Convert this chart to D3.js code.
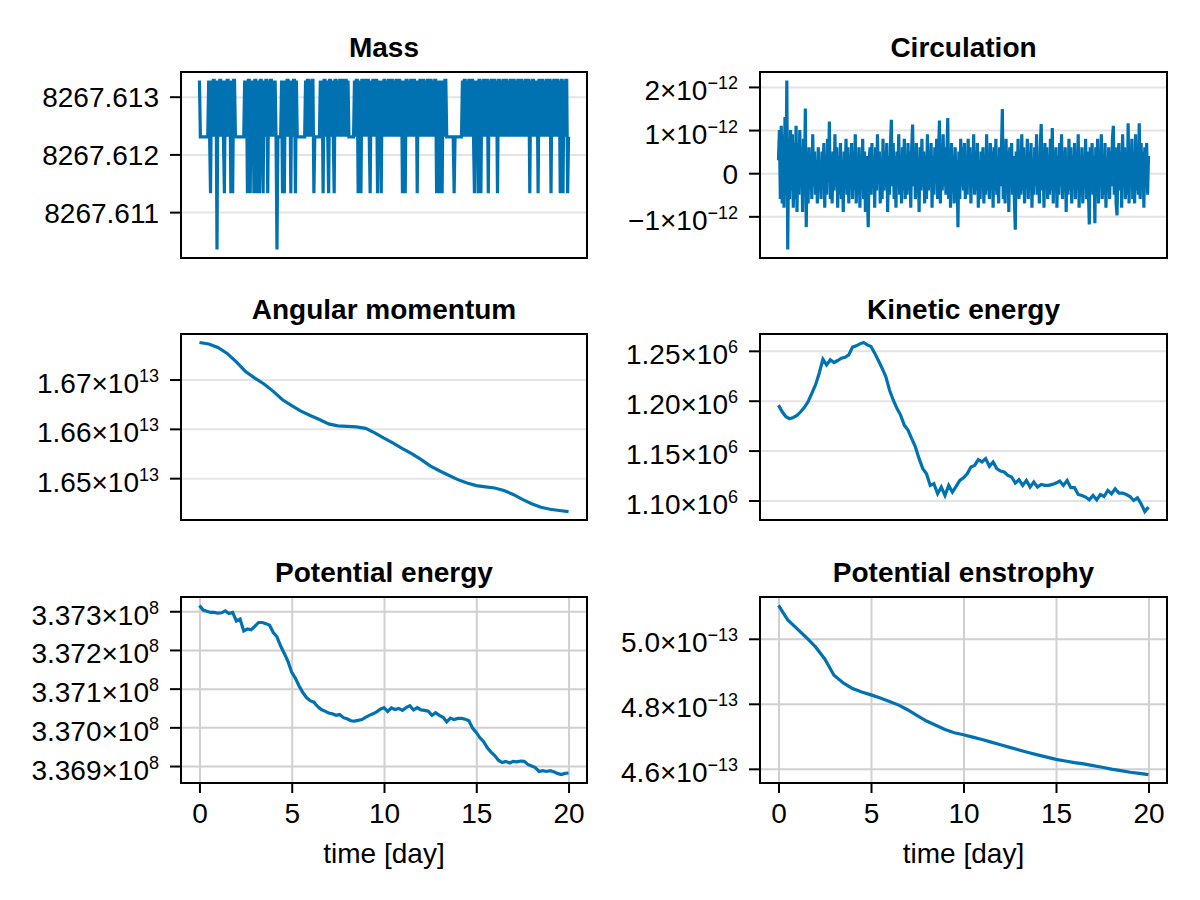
<!DOCTYPE html>
<html>
<head>
<meta charset="utf-8">
<script src="https://cdn.jsdelivr.net/npm/d3@7"></script>
<style>
body { margin: 0; background: #fff; }
svg text { font-family: "Liberation Sans", Arial, sans-serif; fill: #000; }
</style>
</head>
<body>
<svg id="chart" width="1200" height="900"></svg>
<script>
//Sampling steps in days for the different series
var dtFine = 0.05, dtMid = 0.2, dtCoarse = 0.5;

//Mass sits on float32 levels, stored as steps above the lowest level
//(one row per day, every 0.05 day)
var massBase = 8267.6103515625, massStep = 0.0009765625;
var massSteps = [
    3,2,2,2,2,2,2,2,2,2, 3,2,1,3,2,3,3,2,3,0,
    3,2,3,3,2,3,2,1,3,2, 3,3,2,3,1,3,1,3,3,2,
    2,2,2,2,2,2,2,2,2,3, 2,3,1,3,3,1,3,2,3,1,
    3,3,1,3,2,1,3,3,2,1, 3,2,3,3,1,3,2,3,3,2,
    3,2,3,2,0,2,2,2,2,3, 1,3,1,3,2,3,3,2,3,1,
    3,2,3,3,1,3,2,2,2,2, 2,2,2,2,2,3,2,3,3,2,
    3,2,3,3,1,2,2,2,2,2, 2,3,2,3,1,3,3,2,3,2,
    1,3,3,2,3,2,1,3,3,2, 3,2,3,3,2,3,3,2,3,3,
    2,3,2,2,2,2,2,2,3,2, 3,3,1,3,2,1,3,3,2,3,
    3,2,3,3,2,1,3,2,3,3, 2,3,3,1,3,2,3,1,3,2,
    3,3,2,3,2,3,3,2,3,3, 2,3,2,3,3,2,3,3,2,3,
    1,3,2,1,3,3,2,3,2,3, 3,2,3,3,2,3,1,3,2,3,
    3,2,3,3,2,3,2,3,3,2, 3,3,2,3,2,3,3,1,3,2,
    1,3,2,1,3,2,3,3,2,2, 2,2,2,2,2,2,1,2,2,2,
    2,2,2,2,2,3,2,3,3,2, 3,2,3,3,2,3,3,2,1,3,
    2,3,1,3,3,1,3,2,3,3, 2,3,3,1,3,2,3,3,2,3,
    3,2,3,1,3,3,2,3,2,3, 3,2,3,3,2,3,2,3,3,2,
    3,3,2,3,2,3,3,2,3,3, 2,3,2,3,3,2,3,3,1,3,
    2,3,3,2,3,2,3,1,3,3, 2,3,3,2,3,2,3,3,2,3,
    3,1,3,2,3,3,2,3,3,2, 3,1,3,3,1,3,2,3,3,1,
    2];

//Circulation in units of 1e-13, every 0.05 day (one row per day)
var circulation = [
    3,10,-6,11,-7,9,-8,13,-5,21.5, -17.7,8,-6,10,-4,9,-8,7,-6,11,
    -9,7,-5,10,-3,6,-9,8,-4,15, -12.5,5,-7,6,-2,4,-6,9,-3,5,
    -5,3,-7,6,-4,2,-6,5,-3,7, -8,4,-5,8,-2,12,-6,3,-7,5,
    -4,9,-3,6,-8,4,-5,7,-6,3, -9,5,-2,8,-5,6,-7,4,-3,7,
    -6,5,-4,9,-7,3,-5,6,-8,4, -3,8,-6,5,-9,4,-4,-12.5,3,6,
    -5,7,-3,4,-8,6,-4,9,-2,5, -7,3,-6,8,-4,5,-3,7,-9,4,
    -5,6,12.4,-3,7,-6,4,-8,5,-2, 9,-5,3,-7,6,-4,8,-6,3,-5,
    7,-4,5,-8,6,11.3,-3,4,-6,7, -5,3,-9,6,-4,8,-3,5,-7,4,
    -6,9,-4,5,-3,7,-8,4,-5,6, -2,8,-6,4,12.2,-7,5,-4,9,-3,
    6,-5,4,12.8,-6,5,-8,7,-3,4, -7,6,-4,3,-12.5,5,-6,8,-3,6,
    -4,7,-6,3,-5,8,-2,6,-7,4, -3,9,-5,5,-4,7,-8,3,-6,5,
    -3,6,-7,4,-5,9,-4,3,-6,7, -2,5,-8,6,-4,8,-5,3,-7,6,
    -3,5,14.9,-6,4,-7,8,-4,5,-9, 6,-3,7,-5,4,-6,-13.1,5,-4,8,
    -6,3,-5,9,-4,6,-7,4,-3,8, -6,5,-4,7,-8,3,-5,6,-3,9,
    -5,4,-7,6,11.4,-4,5,-8,7,-3, 6,-6,4,-5,8,-4,10.5,-7,5,-3,
    6,-8,4,-5,7,-3,9,-6,5,-4, 6,-9,3,-5,8,-4,6,-7,4,-3,
    7,-6,5,-4,9,-8,3,-5,6,-7, 4,-3,8,-6,5,-4,-11.9,6,-3,7,
    -5,4,-11.6,6,-4,8,-7,5,-3,9, -6,4,-5,7,-8,3,-4,6,-6,5,
    -3,8,11,-5,6,-7,-9.8,4,7,-4, 5,-8,9,-3,6,-6,4,-5,11.6,-7,
    5,-3,8,-6,4,-7,9,-4,6,-5, 11.6,-6,7,-4,5,-8,6,-3,7,-5,
    4];

//Angular momentum in units of 1e13, every 0.5 day
var angularMomentum = [
    1.67752, 1.67720, 1.67650, 1.67530, 1.67360, 1.67160, 1.67030, 1.66910,
    1.66760, 1.66590, 1.66470, 1.66360, 1.66270, 1.66190, 1.66100, 1.66060,
    1.66050, 1.66040, 1.66010, 1.65920, 1.65810, 1.65710, 1.65600, 1.65496,
    1.65380, 1.65250, 1.65150, 1.65060, 1.64970, 1.64900, 1.64850, 1.64825,
    1.64800, 1.64750, 1.64670, 1.64570, 1.64480, 1.64410, 1.64370, 1.64345,
    1.64323];

//Kinetic energy in units of 1e3, every 0.2 day
var kineticEnergy = [
    1195.6, 1188.9, 1183.9, 1181.9, 1183.2, 1185.2, 1188.9, 1193.3, 1199.0, 1207.4,
    1215.8, 1227.5, 1241.6, 1235.9, 1241.0, 1238.3, 1240.3, 1242.6, 1243.6, 1246.0,
    1253.7, 1255.0, 1257.0, 1258.4, 1256.0, 1254.4, 1247.7, 1240.3, 1232.6, 1224.2,
    1210.7, 1200.7, 1192.3, 1185.6, 1175.5, 1170.5, 1162.1, 1153.7, 1141.9, 1131.9,
    1126.8, 1115.1, 1116.8, 1106.7, 1113.4, 1105.0, 1115.1, 1108.4, 1114.1, 1120.1,
    1122.8, 1126.8, 1133.6, 1135.2, 1140.9, 1138.6, 1141.9, 1134.2, 1138.6, 1131.9,
    1129.5, 1128.5, 1125.2, 1123.5, 1117.4, 1120.8, 1115.1, 1120.1, 1113.4, 1118.5,
    1113.4, 1116.1, 1115.1, 1115.1, 1116.1, 1117.4, 1119.5, 1115.1, 1120.1, 1112.8,
    1112.8, 1106.0, 1105.0, 1103.4, 1100.7, 1105.0, 1100.7, 1106.0, 1104.0, 1110.1,
    1106.7, 1111.7, 1107.4, 1107.4, 1106.0, 1104.0, 1100.0, 1102.7, 1096.6, 1088.9,
    1093.3];

//Potential energy in units of 1e4, every 0.2 day
var potentialEnergy = [
    33731.5, 33730.3, 33730.0, 33729.7, 33729.7, 33729.5, 33729.6, 33730.1, 33729.4, 33729.7,
    33727.5, 33728.0, 33724.9, 33725.4, 33725.2, 33726.1, 33727.1, 33727.1, 33726.8, 33726.4,
    33724.5, 33723.4, 33721.0, 33719.1, 33717.0, 33714.2, 33712.7, 33710.7, 33709.0, 33707.7,
    33706.9, 33706.5, 33705.4, 33704.6, 33704.2, 33703.7, 33703.5, 33703.1, 33703.3, 33702.5,
    33702.2, 33701.7, 33701.6, 33701.8, 33702.0, 33702.6, 33703.1, 33703.5, 33704.0, 33704.7,
    33705.1, 33704.1, 33705.0, 33704.6, 33704.9, 33704.4, 33705.1, 33705.6, 33704.5, 33705.1,
    33704.5, 33704.4, 33704.2, 33703.1, 33703.8, 33703.1, 33702.6, 33701.4, 33702.4, 33702.0,
    33702.3, 33702.3, 33702.1, 33701.7, 33699.8, 33698.7, 33697.3, 33696.3, 33694.7, 33693.6,
    33692.7, 33691.5, 33690.9, 33691.2, 33690.8, 33691.2, 33691.1, 33691.3, 33691.2, 33690.4,
    33690.0, 33689.6, 33688.6, 33688.8, 33688.6, 33688.8, 33688.5, 33688.1, 33687.8, 33688.1,
    33688.2];

//Potential enstrophy in units of 1e-13, every 0.5 day
var potentialEnstrophy = [
    5.1025, 5.0580, 5.0310, 5.0040, 4.9750, 4.9380, 4.8880, 4.8640,
    4.8470, 4.8360, 4.8275, 4.8180, 4.8070, 4.7960, 4.7810, 4.7640,
    4.7470, 4.7340, 4.7210, 4.7110, 4.7050, 4.6975, 4.6900, 4.6820,
    4.6740, 4.6660, 4.6580, 4.6502, 4.6430, 4.6360, 4.6290, 4.6240,
    4.6190, 4.6150, 4.6100, 4.6050, 4.5990, 4.5945, 4.5895, 4.5860,
    4.5824];

//Tick values
var timeTicks = [0, 5, 10, 15, 20];
var massTicks = [8267.611, 8267.612, 8267.613];
var circulationTicks = [-1e-12, 0, 1e-12, 2e-12];
var angularTicks = [1.65e13, 1.66e13, 1.67e13];
var kineticTicks = [1.10e6, 1.15e6, 1.20e6, 1.25e6];
var potentialTicks = [3.369e8, 3.370e8, 3.371e8, 3.372e8, 3.373e8];
var enstrophyTicks = [4.6e-13, 4.8e-13, 5.0e-13];

//Panel layout
var colX = [[181, 587], [760, 1167]];
var rowY = [72, 334, 597];
var rowH = 186;
var lineColor = "#0072b2";
var fontSize = 28;
var supSize = 18;

var panels = [
    {title: "Mass", row: 0, col: 0, dt: dtFine,
     values: massSteps.map(function(k) { return massBase + k * massStep; }),
     ticks: massTicks, exp: null, digits: 3},
    {title: "Circulation", row: 0, col: 1, dt: dtFine,
     values: circulation.map(function(v) { return v * 1e-13; }),
     ticks: circulationTicks, exp: -12, digits: 0},
    {title: "Angular momentum", row: 1, col: 0, dt: dtCoarse,
     values: angularMomentum.map(function(v) { return v * 1e13; }),
     ticks: angularTicks, exp: 13, digits: 2},
    {title: "Kinetic energy", row: 1, col: 1, dt: dtMid,
     values: kineticEnergy.map(function(v) { return v * 1e3; }),
     ticks: kineticTicks, exp: 6, digits: 2},
    {title: "Potential energy", row: 2, col: 0, dt: dtMid,
     values: potentialEnergy.map(function(v) { return v * 1e4; }),
     ticks: potentialTicks, exp: 8, digits: 3},
    {title: "Potential enstrophy", row: 2, col: 1, dt: dtCoarse,
     values: potentialEnstrophy.map(function(v) { return v * 1e-13; }),
     ticks: enstrophyTicks, exp: -13, digits: 1}
];

//Split a tick value into mantissa and exponent text
function tickParts(v, exp, digits) {
    if (exp === null) return {mant: v.toFixed(digits), exp: null};
    if (v === 0) return {mant: "0", exp: null};
    var m = (v / Math.pow(10, exp)).toFixed(digits);
    return {mant: m.replace("-", "\u2212") + "\u00d710",
            exp: String(exp).replace("-", "\u2212")};
}

var svg = d3.select("#chart");

panels.forEach(function(p) {
    var x0 = colX[p.col][0], x1 = colX[p.col][1];
    var y0 = rowY[p.row], y1 = y0 + rowH;
    var bottomRow = p.row === 2;
    var gridColor = bottomRow ? "#d0d0d0" : "#e4e4e4";

    //Makie style limits: data extent plus 5% on each side
    var tMax = (p.values.length - 1) * p.dt;
    var x = d3.scaleLinear()
        .domain([-0.05 * tMax, 1.05 * tMax])
        .range([x0, x1]);
    var ext = d3.extent(p.values);
    var pad = 0.05 * (ext[1] - ext[0]);
    var y = d3.scaleLinear()
        .domain([ext[0] - pad, ext[1] + pad])
        .range([y1, y0]);

    var g = svg.append("g");

    //Horizontal grid
    g.append("g")
        .attr("transform", "translate(" + x0 + ",0)")
        .call(d3.axisLeft(y).tickValues(p.ticks)
            .tickSize(-(x1 - x0)).tickFormat(""))
        .call(function(s) {
            s.select(".domain").remove();
            s.selectAll("line")
                .attr("stroke", gridColor)
                .attr("stroke-width", 2);
        });

    //Vertical grid only on the bottom row
    if (bottomRow) {
        g.append("g")
            .attr("transform", "translate(0," + y1 + ")")
            .call(d3.axisBottom(x).tickValues(timeTicks)
                .tickSize(-(y1 - y0)).tickFormat(""))
            .call(function(s) {
                s.select(".domain").remove();
                s.selectAll("line")
                    .attr("stroke", gridColor)
                    .attr("stroke-width", 2);
            });
    }

    //Series line
    g.append("path")
        .datum(p.values)
        .attr("fill", "none")
        .attr("stroke", lineColor)
        .attr("stroke-width", 3.2)
        .attr("d", d3.line()
            .x(function(d, i) { return x(i * p.dt); })
            .y(function(d) { return y(d); }));

    //Frame
    g.append("rect")
        .attr("x", x0)
        .attr("y", y0)
        .attr("width", x1 - x0)
        .attr("height", y1 - y0)
        .attr("fill", "none")
        .attr("stroke", "#000")
        .attr("stroke-width", 2);

    //Y axis ticks and labels
    var ya = g.append("g")
        .attr("transform", "translate(" + x0 + ",0)")
        .call(d3.axisLeft(y).tickValues(p.ticks).tickSize(11).tickFormat(""));
    ya.select(".domain").remove();
    ya.selectAll(".tick line").attr("stroke", "#000").attr("stroke-width", 2);
    ya.selectAll(".tick text").remove();
    ya.selectAll(".tick").each(function(d) {
        var parts = tickParts(d, p.exp, p.digits);
        var t = d3.select(this).append("text")
            .attr("x", -22)
            .attr("y", parts.exp ? 13 : 10)
            .attr("text-anchor", "end")
            .attr("font-size", fontSize);
        t.append("tspan").text(parts.mant);
        if (parts.exp) {
            t.append("tspan")
                .attr("dy", -11)
                .attr("font-size", supSize)
                .text(parts.exp);
        }
    });

    //X axis only on the bottom row
    if (bottomRow) {
        var xa = g.append("g")
            .attr("transform", "translate(0," + y1 + ")")
            .call(d3.axisBottom(x).tickValues(timeTicks).tickSize(10)
                .tickFormat(""));
        xa.select(".domain").remove();
        xa.selectAll(".tick line").attr("stroke", "#000").attr("stroke-width", 2);
        xa.selectAll(".tick text").remove();
        xa.selectAll(".tick").append("text")
            .attr("y", 40)
            .attr("text-anchor", "middle")
            .attr("font-size", fontSize)
            .text(function(d) { return d; });

        g.append("text")
            .attr("x", (x0 + x1) / 2)
            .attr("y", y1 + 80)
            .attr("text-anchor", "middle")
            .attr("font-size", fontSize)
            .text("time [day]");
    }

    //Panel title
    g.append("text")
        .attr("x", (x0 + x1) / 2)
        .attr("y", y0 - 15)
        .attr("text-anchor", "middle")
        .attr("font-size", fontSize)
        .attr("font-weight", "bold")
        .text(p.title);
});
</script>
</body>
</html>
